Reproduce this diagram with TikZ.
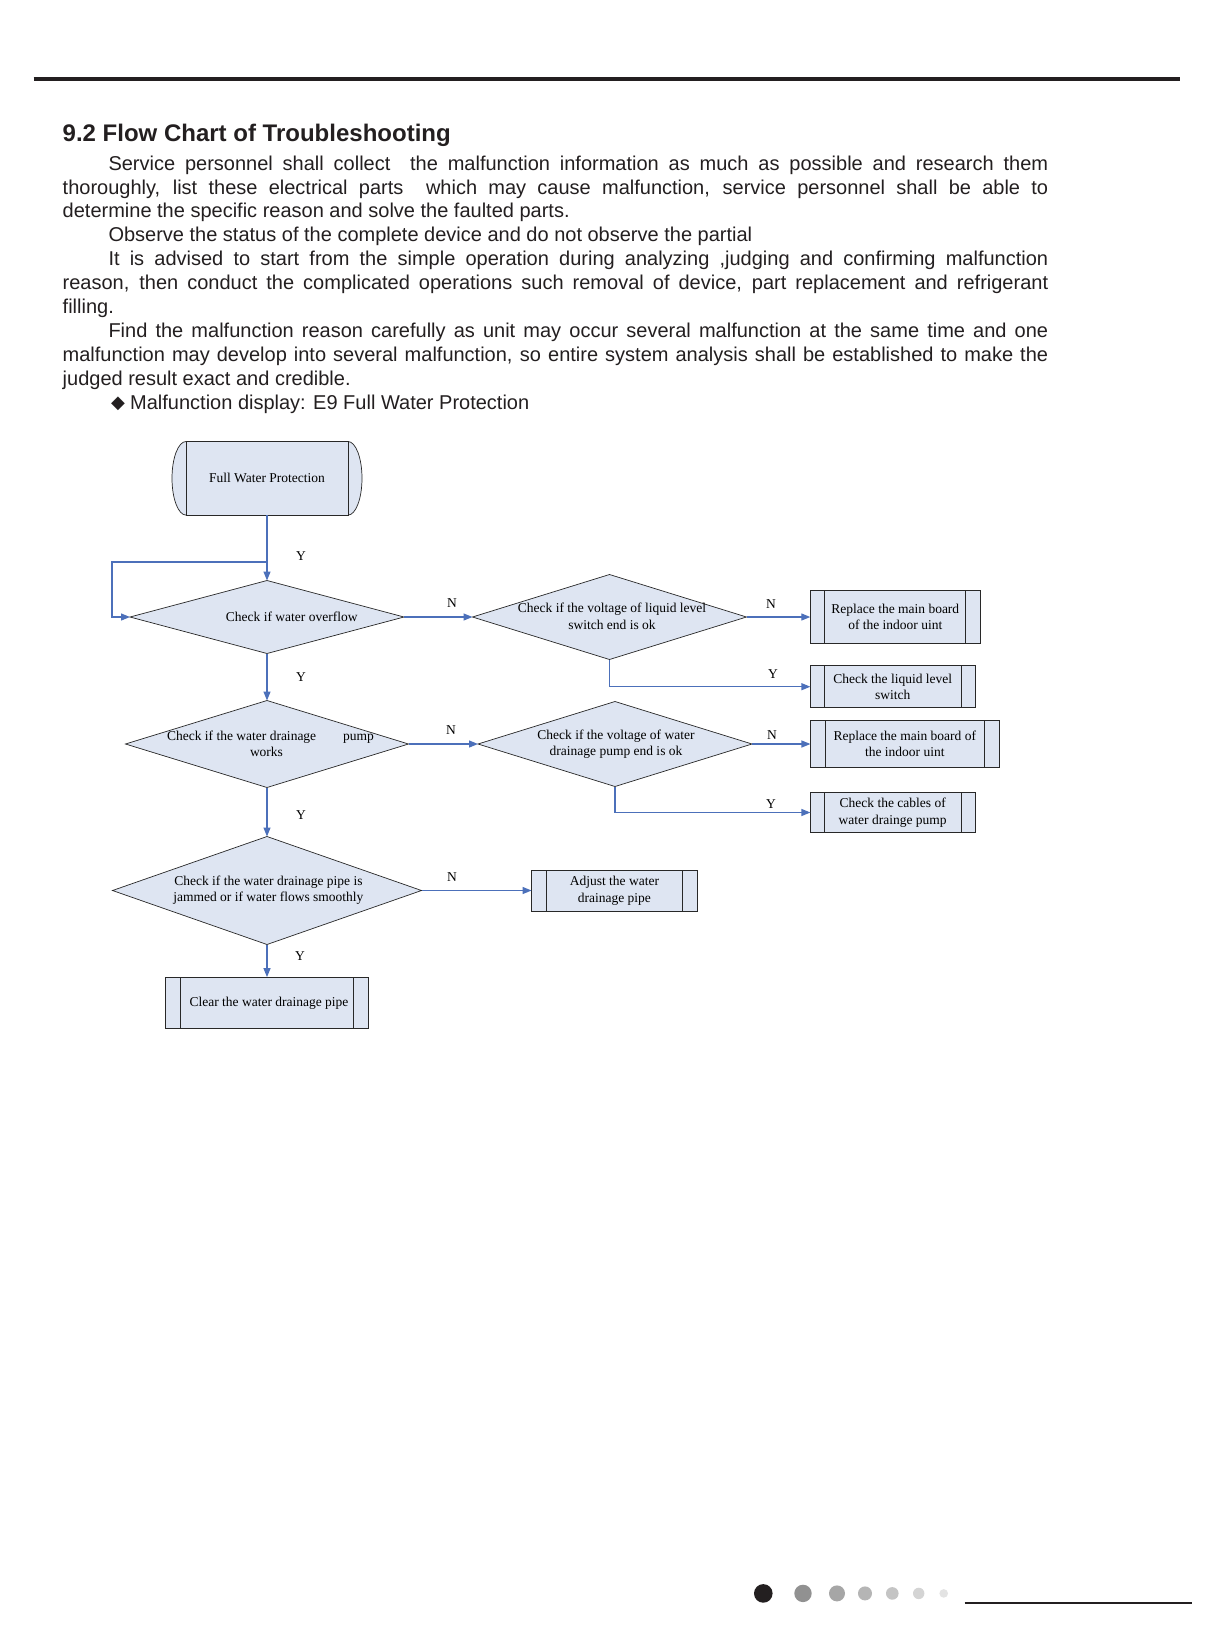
\documentclass[tikz,border=0pt]{standalone}
\usepackage{fontspec}
\setmainfont{Liberation Serif}
\newfontfamily\bodyfont{Liberation Sans}
\newfontfamily\symfont{DejaVu Sans}
\usetikzlibrary{shapes.geometric,arrows.meta,calc}
\definecolor{fillc}{RGB}{222,229,242}
\definecolor{linec}{RGB}{76,112,186}
\definecolor{edgec}{RGB}{40,40,40}
\definecolor{textc}{RGB}{35,31,32}
\tikzset{
 dia/.style={diamond, draw=edgec, line width=0.7pt, fill=fillc, inner sep=0pt, outer sep=0pt},
 proc/.style={rectangle, draw=edgec, line width=0.9pt, fill=fillc, inner sep=0pt, outer sep=0pt, font=\fontsize{13.5}{16.6}\selectfont, align=center},
 ftext/.style={font=\fontsize{13.5}{16.6}\selectfont, align=center, inner sep=0pt},
 yn/.style={font=\fontsize{13.5}{16}\selectfont, inner sep=0pt},
 arr/.style={draw=linec, line width=1.2pt, -{Triangle[length=9pt,width=7pt]}},
 bodyline/.style={anchor=base west, inner sep=0pt, font=\bodyfont\fontsize{20}{24}\selectfont, text=textc},
}
\newcommand\proclines[2]{\draw[edgec, line width=0.9pt] ([xshift=#2]#1.north west) -- ([xshift=#2]#1.south west) ([xshift=-#2]#1.north east) -- ([xshift=-#2]#1.south east);}
\begin{document}
\begin{tikzpicture}[x=1pt,y=-1pt]
\useasboundingbox (0,0) rectangle (1213,1644);
\fill[white] (0,0) rectangle (1213,1644);
% header rule
\draw[textc, line width=4pt] (33.5,78.6) -- (1179.5,78.6);
% title and text
\node[anchor=base west, inner sep=0pt, font=\bodyfont\bfseries\fontsize{24}{28}\selectfont, text=textc] (title) at (62.5,141.7) {9.2 Flow Chart of Troubleshooting};
\node[bodyline] (l1) at (108.3,170) {\makebox[939.7pt][s]{Service personnel shall collect\ \ the malfunction information as much as possible and research them}};
\node[bodyline] (l2) at (62.5,194) {\makebox[985.5pt][s]{thoroughly, list these electrical parts\ \ which may cause malfunction, service personnel shall be able to}};
\node[bodyline] (l3) at (62.5,217.9) {determine the specific reason and solve the faulted parts.};
\node[bodyline] (l4) at (108.3,241.9) {Observe the status of the complete device and do not observe the partial};
\node[bodyline] (l5) at (108.3,265.8) {\makebox[939.7pt][s]{It is advised to start from the simple operation during analyzing ,judging and confirming malfunction}};
\node[bodyline] (l6) at (62.5,289.8) {\makebox[985.5pt][s]{reason, then conduct the complicated operations such removal of device, part replacement and refrigerant}};
\node[bodyline] (l7) at (62.5,313.7) {filling.};
\node[bodyline] (l8) at (108.3,337.7) {\makebox[939.7pt][s]{Find the malfunction reason carefully as unit may occur several malfunction at the same time and one}};
\node[bodyline] (l9) at (62.5,361.6) {\makebox[985.5pt][s]{malfunction may develop into several malfunction, so entire system analysis shall be established to make the}};
\node[bodyline] (l10) at (62.5,385.6) {judged result exact and credible.};
\node[bodyline, font=\symfont\fontsize{18}{24}\selectfont] (bul) at (111,408.5) {◆};
\node[bodyline] (l11) at (130,409.5) {Malfunction display: E9 Full Water Protection};
% start terminal
\fill[fillc, draw=edgec, line width=0.7pt] (186,478.3) ellipse [x radius=14pt, y radius=36.8pt];
\fill[fillc, draw=edgec, line width=0.7pt] (348,478.3) ellipse [x radius=14pt, y radius=36.8pt];
\node[proc, minimum width=162pt, minimum height=73.6pt] (start) at (267,478.3) {Full Water Protection};
% diamonds
\node[dia, minimum width=274pt, minimum height=73pt] (d1) at (267,617) {};
\node[ftext] (d1t) at (291.7,617.3) {Check if water overflow};
\node[dia, minimum width=274pt, minimum height=85pt] (d2) at (609.5,617) {};
\node[ftext] (d2t) at (612,616.5) {Check if the voltage of liquid level\\switch end is ok};
\node[dia, minimum width=283pt, minimum height=87pt] (d3) at (267,744) {};
\node[ftext] (d3t) at (270.5,744) {Check if the water drainage\hspace{27pt}pump\\works\rule{8pt}{0pt}};
\node[dia, minimum width=274pt, minimum height=85pt] (d4) at (615,744) {};
\node[ftext] (d4t) at (616,744) {Check if the voltage of water\\drainage pump end is ok};
\node[dia, minimum width=309pt, minimum height=108pt] (d5) at (267,890.5) {};
\node[ftext] (d5t) at (268.4,890) {Check if the water drainage pipe is\\jammed or if water flows smoothly};
% process boxes
\node[proc, minimum width=170pt, minimum height=53.5pt] (b1) at (895.3,617) {Replace the main board\\of the indoor uint};
\proclines{b1}{14.5pt}
\node[proc, minimum width=164.6pt, minimum height=42pt] (b2) at (892.7,686.7) {Check the liquid level\\switch};
\proclines{b2}{14pt}
\node[proc, minimum width=188.7pt, minimum height=47pt] (b3) at (904.8,744) {Replace the main board of\\the indoor uint};
\proclines{b3}{15pt}
\node[proc, minimum width=164.6pt, minimum height=40pt] (b4) at (892.7,812.5) {Check the cables of\\water drainge pump};
\proclines{b4}{14pt}
\node[proc, minimum width=165.7pt, minimum height=41pt] (b5) at (614.4,890.5) {Adjust the water\\drainage pipe};
\proclines{b5}{14.7pt}
\node[proc, minimum width=202.4pt, minimum height=51.4pt] (b6) at (267,1002.8) {\hspace{4pt}Clear the water drainage pipe};
\proclines{b6}{14.3pt}
% connectors
\draw[arr] (start.south) -- (d1.north);
\coordinate (loopa) at (267,562);
\draw[arr] (loopa) -| ($(d1.west)+(-18,0)$) -- (d1.west);
\draw[arr] (d1.east) -- (d2.west);
\draw[arr] (d2.east) -- (b1.west);
\draw[arr] (d2.south) |- (b2.west);
\draw[arr] (d1.south) -- (d3.north);
\draw[arr] (d3.east) -- (d4.west);
\draw[arr] (d4.east) -- (b3.west);
\draw[arr] (d4.south) |- (b4.west);
\draw[arr] (d3.south) -- (d5.north);
\draw[arr] (d5.east) -- (b5.west);
\draw[arr] (d5.south) -- (b6.north);
% labels
\node[yn] (y1) at (301,556) {Y};
\node[yn] (n1) at (452,603) {N};
\node[yn] (n2) at (771,604) {N};
\node[yn] (y2) at (773,674) {Y};
\node[yn] (y3) at (301,677) {Y};
\node[yn] (n3) at (451,730) {N};
\node[yn] (n4) at (772,735) {N};
\node[yn] (y4) at (771,804) {Y};
\node[yn] (y5) at (301,815) {Y};
\node[yn] (n5) at (452,877.5) {N};
\node[yn] (y6) at (300,956) {Y};
% footer
\fill[textc] (763.3,1593.4) circle[radius=9.3pt];
\fill[black!43] (803,1593.4) circle[radius=8.7pt];
\fill[black!35] (837,1593.4) circle[radius=8pt];
\fill[black!29] (865,1593.4) circle[radius=7pt];
\fill[black!23] (892.3,1593.4) circle[radius=6.3pt];
\fill[black!17] (918.7,1593.4) circle[radius=5.7pt];
\fill[black!11] (943.7,1593.4) circle[radius=4.3pt];
\draw[textc, line width=2pt] (964.5,1602.5) -- (1192,1602.5);
\end{tikzpicture}
\end{document}
